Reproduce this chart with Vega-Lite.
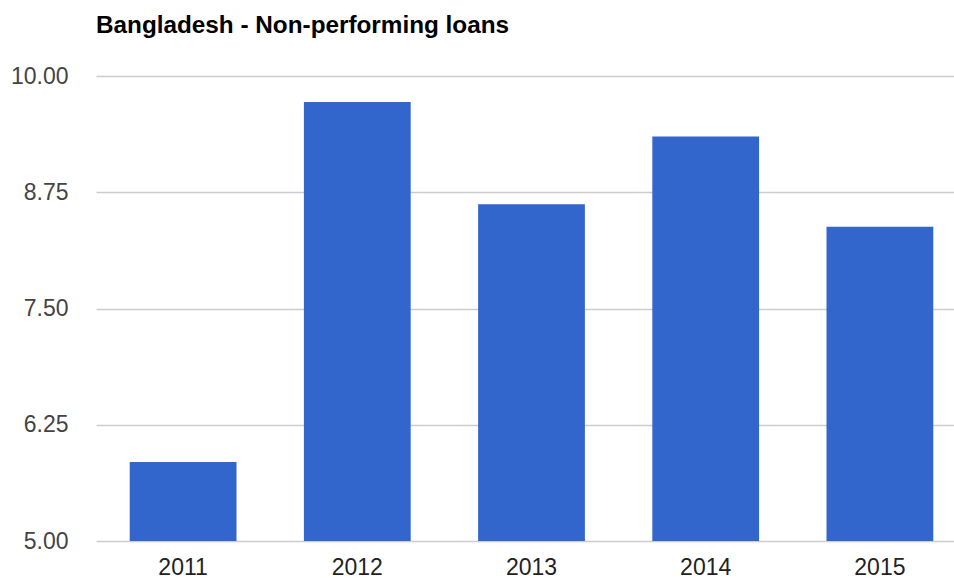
{
  "$schema": "https://vega.github.io/schema/vega-lite/v6.json",
  "autosize": "none",
  "padding": {"left": 96, "top": 76, "right": 0, "bottom": 40},
  "width": 871,
  "height": 465,
  "background": "white",
  "title": {
    "text": "Bangladesh - Non-performing loans",
    "anchor": "start",
    "frame": "group",
    "font": "Liberation Sans",
    "fontSize": 24.3,
    "fontWeight": "bold",
    "color": "#000000",
    "baseline": "alphabetic",
    "offset": 8
  },
  "data": {
    "values": [
      {"year": "2011", "value": 5.85},
      {"year": "2012", "value": 9.72},
      {"year": "2013", "value": 8.62},
      {"year": "2014", "value": 9.35},
      {"year": "2015", "value": 8.38}
    ]
  },
  "mark": {"type": "bar", "color": "#3366cc", "clip": true},
  "encoding": {
    "x": {
      "field": "year",
      "type": "ordinal",
      "scale": {"paddingInner": 0.387, "paddingOuter": 0.1935},
      "axis": {
        "title": null,
        "labelAngle": 0,
        "labelFont": "Liberation Sans",
        "labelFontSize": 23,
        "labelColor": "#222222",
        "labelPadding": 15,
        "ticks": false,
        "domain": false
      }
    },
    "y": {
      "field": "value",
      "type": "quantitative",
      "scale": {"domain": [5, 10], "nice": false, "zero": false},
      "axis": {
        "title": null,
        "values": [5, 6.25, 7.5, 8.75, 10],
        "format": ".2f",
        "labelFont": "Liberation Sans",
        "labelFontSize": 23,
        "labelColor": "#444444",
        "labelPadding": 28,
        "ticks": false,
        "domain": false,
        "grid": true,
        "gridColor": "#cccccc",
        "gridWidth": 1.5
      }
    }
  },
  "config": {"view": {"stroke": null}}
}
